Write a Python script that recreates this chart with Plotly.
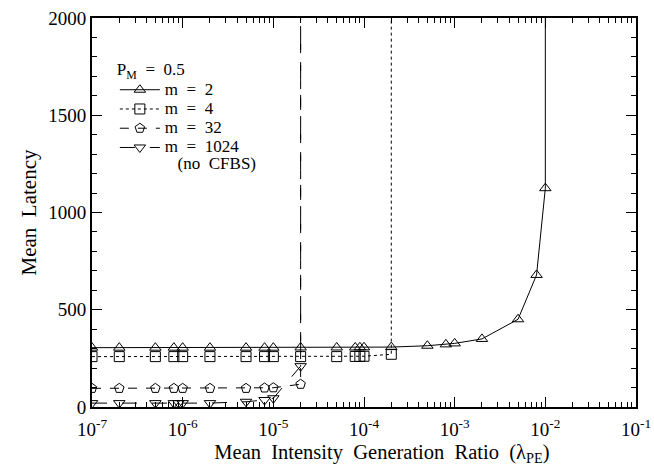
import plotly.graph_objects as go

# ---- data ----
x_m2 = [1e-7, 2e-7, 5e-7, 8e-7, 1e-6, 2e-6, 5e-6, 8e-6, 1e-5, 2e-5, 5e-5, 8e-5, 9e-5, 1e-4,
        2e-4, 5e-4, 8e-4, 1e-3, 2e-3, 5e-3, 8e-3, 1e-2, 1e-2]
y_m2 = [305, 305, 305, 305, 305, 305, 305, 305, 305, 306, 306, 306, 307, 307,
        308, 315, 322, 327, 350, 451, 679, 1125, 2600]

x_m4 = [1e-7, 2e-7, 5e-7, 8e-7, 1e-6, 2e-6, 5e-6, 8e-6, 1e-5, 2e-5, 5e-5, 8e-5, 9e-5, 1e-4, 2e-4, 2e-4]
y_m4 = [259, 259, 259, 259, 259, 259, 259, 259, 259, 259, 259, 260, 260, 261, 271, 2600]

x_m32 = [1e-7, 2e-7, 5e-7, 8e-7, 1e-6, 2e-6, 5e-6, 8e-6, 1e-5, 2e-5, 2e-5]
y_m32 = [96, 96, 96, 96, 96, 96, 96, 98, 99, 117, 2600]

x_m1024 = [1e-7, 2e-7, 5e-7, 8e-7, 9e-7, 1e-6, 2e-6, 5e-6, 8e-6, 1e-5, 2e-5, 2e-5]
y_m1024 = [20, 20, 20, 20, 20, 20, 20, 27, 36, 45, 210, 2600]

SP = '<span style="font-size:17px">'
names = [
    SP + "m&nbsp;&nbsp;=&nbsp;&nbsp;2</span>",
    SP + "m&nbsp;&nbsp;=&nbsp;&nbsp;4</span>",
    SP + "m&nbsp;&nbsp;=&nbsp;&nbsp;32</span>",
    SP + "m&nbsp;&nbsp;=&nbsp;&nbsp;1024</span><br>" + SP + "&nbsp;&nbsp;&nbsp;(no&nbsp;&nbsp;CFBS)</span>",
]
legend_title = SP + "P<sub>M</sub>&nbsp;&nbsp;=&nbsp;&nbsp;0.5</span>"

series = [
    (names[0], x_m2, y_m2, "triangle-up-open", "solid"),
    (names[1], x_m4, y_m4, "square-open", "dot"),
    (names[2], x_m32, y_m32, "pentagon-open", "dash"),
    (names[3], x_m1024, y_m1024, "triangle-down-open", "longdash"),
]

decades = [-7, -6, -5, -4, -3, -2, -1]
x_tickvals = [10.0 ** d for d in decades]
x_ticktext = ["10<sup>-7</sup>", "10<sup>-6</sup>", "10<sup>-5</sup>", "10<sup>-4</sup>",
              "10<sup>-3</sup>", "10<sup>-2</sup>", "10<sup>-1</sup>"]
x_minor = [k * 10.0 ** d for d in decades[:-1] for k in range(2, 10)]

y_tickvals = [0, 500, 1000, 1500, 2000]

FONT = "Liberation Serif, DejaVu Serif, serif"

fig = go.Figure()
for name, xs, ys, sym, dash in series:
    fig.add_trace(go.Scatter(
        x=xs, y=ys, name=name, mode="lines+markers",
        line=dict(color="black", width=1, dash=dash),
        marker=dict(symbol=sym, size=10, color="black", line=dict(width=1, color="black")),
    ))

fig.update_layout(
    width=654, height=470,
    margin=dict(l=92, r=18, t=18, b=63),
    paper_bgcolor="white", plot_bgcolor="white",
    font=dict(family=FONT, size=17, color="black"),
    showlegend=True,
    legend=dict(
        x=0.042, y=0.895, xanchor="left", yanchor="top",
        bgcolor="rgba(0,0,0,0)", borderwidth=0,
        font=dict(family=FONT, size=12.5, color="black"),
        title=dict(text=legend_title, font=dict(family=FONT, size=12.5)),
        valign="top", tracegroupgap=0, itemwidth=40,
    ),
    xaxis=dict(
        type="log", range=[-7, -1], automargin=False,
        tickmode="array", tickvals=x_tickvals, ticktext=x_ticktext,
        ticks="inside", ticklen=10, tickwidth=1, tickcolor="black",
        minor=dict(tickmode="array", tickvals=x_minor, ticks="inside", ticklen=5,
                   tickwidth=1, tickcolor="black", showgrid=False),
        showline=True, linecolor="black", linewidth=2, mirror="allticks",
        showgrid=False, zeroline=False, ticklabelstandoff=4, ticklabeloverflow="allow",
        tickfont=dict(family=FONT, size=19),
        title=dict(text="&nbsp;&nbsp;&nbsp;&nbsp;&nbsp;&nbsp;&nbsp;Mean&nbsp;&nbsp;Intensity&nbsp;&nbsp;Generation&nbsp;&nbsp;Ratio&nbsp;&nbsp;(λ<sub>PE</sub>)",
                   font=dict(family=FONT, size=20.5), standoff=6),
    ),
    yaxis=dict(
        range=[0, 2000], automargin=False,
        tickmode="array", tickvals=y_tickvals,
        ticks="inside", ticklen=10, tickwidth=1, tickcolor="black",
        minor=dict(ticks="inside", ticklen=5, tickwidth=1, tickcolor="black", dtick=100,
                   showgrid=False),
        showline=True, linecolor="black", linewidth=2, mirror="allticks",
        showgrid=False, zeroline=False, ticklabeloverflow="allow",
        tickfont=dict(family=FONT, size=19),
        title=dict(text="Mean&nbsp;&nbsp;Latency", font=dict(family=FONT, size=21), standoff=6),
    ),
)

fig.write_html(
    "out.html",
    config={"displayModeBar": False},
    post_script="document.body.style.margin='0';document.body.style.overflow='hidden';",
)
